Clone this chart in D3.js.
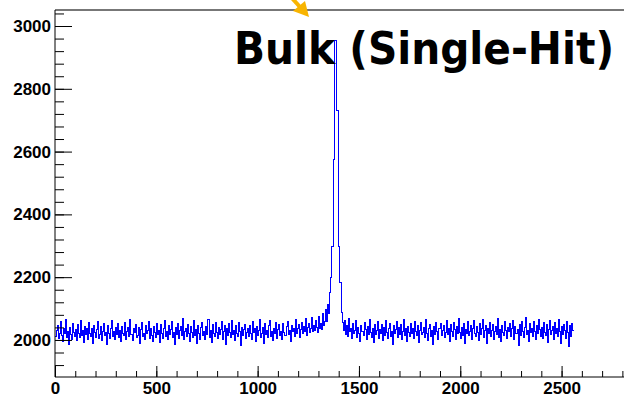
<!DOCTYPE html>
<html>
<head>
<meta charset="utf-8">
<script src="https://cdn.jsdelivr.net/npm/d3@7"></script>
<style>
  body { margin: 0; background: #fff; }
  svg { display: block; }
  .tick text { font-family: 'Liberation Sans', Arial, sans-serif; font-weight: bold; font-size: 17px; fill: #000; }
</style>
</head>
<body>
<div class="main"><svg></svg></div>
<script>
// histogram channel counts, 5 channels per bin, from channel 0 to 2560
const binWidth = 5;
const counts = [
  2010, 2031, 2046, 2005, 2022, 2058, 2013, 1996, 2037, 2019, 2064, 2008, 2027, 1985, 2041, 2016, 2003, 2052, 2024, 2011, 2034, 1999, 2048, 2020, 2007, 2061, 2015, 2029, 1993, 2043, 2018, 2035,
  2002, 2055, 2021, 2012, 2038, 1990, 2047, 2025, 2009, 2033, 2059, 2004, 2017, 2042, 1997, 2028, 2051, 2013, 2023, 1986, 2045, 2019, 2006, 2036, 2062, 2011, 2026, 2000, 2040, 2016, 2053, 2008,
  2030, 1994, 2044, 2021, 2014, 2057, 2003, 2027, 2039, 2010, 2066, 2018, 1998, 2035, 2024, 2049, 2007, 2015, 2041, 1988, 2032, 2056, 2012, 2022, 2001, 2046, 2019, 2029, 2060, 2005, 2037, 2013,
  1996, 2043, 2025, 2009, 2054, 2017, 2031, 1991, 2048, 2020, 2004, 2038, 2063, 2011, 2026, 2000, 2045, 2016, 2034, 2058, 2008, 2023, 1984, 2040, 2018, 2052, 2006, 2029, 2042, 2014, 2067, 2002,
  2027, 2036, 2010, 2050, 2019, 1995, 2044, 2024, 2007, 2061, 2013, 2032, 1989, 2047, 2021, 2003, 2039, 2055, 2015, 2028, 2000, 2043, 2017, 2064, 2009, 2030, 1993, 2049, 2022, 2012, 2057, 2025,
  2006, 2040, 2018, 2033, 2059, 2001, 2026, 2045, 1987, 2036, 2014, 2052, 2023, 2008, 2062, 2016, 2031, 1997, 2046, 2020, 2010, 2055, 2027, 1982, 2041, 2013, 2034, 2050, 2004, 2024, 2038, 2011,
  2047, 2019, 2002, 2058, 2025, 2035, 1994, 2043, 2015, 2029, 2066, 2007, 2021, 2039, 1990, 2053, 2017, 2030, 2009, 2045, 2061, 2012, 2026, 1998, 2037, 2022, 2056, 2005, 2033, 2048, 2014, 2028,
  2003, 2051, 2024, 2013, 2042, 2060, 2018, 2030, 1996, 2047, 2026, 2038, 2011, 2064, 2021, 2035, 2049, 2008, 2032, 2057, 2019, 2043, 2028, 2068, 2015, 2040, 2054, 2023, 2036, 2070, 2027, 2046,
  2030, 2062, 2041, 2024, 2075, 2038, 2052, 2033, 2084, 2046, 2058, 2098, 2060, 2112, 2085, 2150, 2200, 2298, 2298, 2576, 2955, 2955, 2730, 2730, 2298, 2182, 2182, 2086, 2055, 2030, 2062, 2018,
  2045, 2010, 2068, 2026, 2035, 2004, 2052, 2019, 2031, 2061, 2008, 2040, 2022, 1995, 2047, 2027, 2013, 2056, 2033, 2002, 2044, 2018, 2065, 2024, 2009, 2038, 1991, 2050, 2016, 2029, 2059, 2006,
  2034, 2021, 2048, 1999, 2041, 2015, 2063, 2025, 2005, 2036, 2054, 2012, 2028, 1987, 2045, 2020, 2032, 2058, 2009, 2039, 2017, 2050, 2001, 2027, 2066, 2014, 2035, 1996, 2043, 2023, 2011, 2053,
  2019, 2037, 2004, 2060, 2026, 2013, 2046, 1993, 2031, 2055, 2016, 2024, 2040, 2007, 2064, 2021, 1998, 2035, 2049, 2012, 2029, 1985, 2044, 2018, 2057, 2026, 2003, 2038, 2052, 2014, 2030, 2047,
  2008, 2023, 2062, 2017, 2036, 1994, 2048, 2027, 2011, 2055, 2032, 2001, 2042, 2019, 2067, 2025, 2006, 2039, 2013, 2051, 1990, 2034, 2022, 2058, 2015, 2028, 2045, 2003, 2037, 2061, 2020, 2010,
  2043, 2024, 1997, 2053, 2016, 2035, 2064, 2009, 2029, 2047, 1988, 2038, 2021, 2056, 2012, 2031, 2050, 2002, 2026, 2042, 2018, 2069, 2007, 2033, 1995, 2046, 2023, 2014, 2059, 2030, 2005, 2040,
  2027, 2054, 2011, 2036, 2063, 2000, 2044, 2020, 2032, 1983, 2049, 2015, 2058, 2026, 2008, 2041, 2071, 2017, 2030, 1996, 2052, 2024, 2037, 2010, 2060, 2028, 2003, 2045, 2019, 2066, 2034, 2012,
  2039, 2006, 2057, 2025, 2014, 2048, 1992, 2033, 2061, 2018, 2029, 2044, 2002, 2055, 2021, 2036, 2010, 2064, 2027, 1988, 2042, 2016, 2050, 2031, 2004, 2058, 2023, 1980, 2046, 2012, 2053, 2030
];

const xMajor = [0, 500, 1000, 1500, 2000, 2500];
const xMinor = d3.range(0, 2900, 100);
const yMajor = [2000, 2200, 2400, 2600, 2800, 3000];
const yMinor = d3.range(1920, 3060, 40);
const title = 'Bulk (Single-Hit)';

const svgWidth = 624, svgHeight = 398;
const plotLeft = 55, plotTop = 10, plotBottom = 377;

const svg = d3.select('.main')
  .select('svg')
  .attr('width', svgWidth)
  .attr('height', svgHeight)
  .style('background-color', '#fff');

const xScale = d3.scaleLinear()
  .domain([0, 2808])
  .range([plotLeft, svgWidth]);

const yScale = d3.scaleLinear()
  .domain([1882, 3051])
  .range([plotBottom, plotTop]);

// frame top
svg.append('line')
  .attr('x1', plotLeft).attr('x2', svgWidth)
  .attr('y1', plotTop).attr('y2', plotTop)
  .style('stroke', '#777')
  .style('stroke-width', 2);

// histogram as a step line
const points = counts.map(function(d, i) {
  return [i * binWidth, d];
});
points.push([counts.length * binWidth, counts[counts.length - 1]]);

const line = d3.line()
  .x(d => xScale(d[0]))
  .y(d => yScale(d[1]))
  .curve(d3.curveStepAfter);

svg.append('path')
  .datum(points)
  .attr('d', line)
  .attr('shape-rendering', 'crispEdges')
  .style('fill', 'none')
  .style('stroke', '#0000ff')
  .style('stroke-width', 1);

// y axis
svg.append('g')
  .attr('transform', `translate(${plotLeft},0)`)
  .call(d3.axisLeft(yScale).tickValues(yMinor).tickSize(-9).tickSizeOuter(0).tickFormat(''))
  .call(g => g.select('.domain').remove());

svg.append('g')
  .attr('transform', `translate(${plotLeft},0)`)
  .call(d3.axisLeft(yScale).tickValues(yMajor).tickSize(-17).tickSizeOuter(0).tickPadding(4).tickFormat(d3.format('d')))
  .call(g => g.select('.domain').remove());

// x axis
svg.append('g')
  .attr('transform', `translate(0,${plotBottom})`)
  .call(d3.axisBottom(xScale).tickValues(xMinor).tickSize(-6).tickSizeOuter(0).tickFormat(''))
  .call(g => g.select('.domain').remove());

svg.append('g')
  .attr('transform', `translate(0,${plotBottom})`)
  .call(d3.axisBottom(xScale).tickValues(xMajor).tickSize(-11).tickSizeOuter(0).tickPadding(5).tickFormat(d3.format('d')))
  .call(g => g.select('.domain').remove());

svg.selectAll('.tick line').style('stroke', '#000');

// axis lines
svg.append('line')
  .attr('x1', plotLeft).attr('x2', plotLeft)
  .attr('y1', plotTop).attr('y2', plotBottom)
  .style('stroke', '#000');
svg.append('line')
  .attr('x1', plotLeft).attr('x2', svgWidth)
  .attr('y1', plotBottom).attr('y2', plotBottom)
  .style('stroke', '#000');

// label
svg.append('text')
  .text(title)
  .attr('transform', 'translate(234,64) scale(1,1.12)')
  .attr('textLength', 380)
  .attr('lengthAdjust', 'spacingAndGlyphs')
  .style('font-family', "'DejaVu Sans', sans-serif")
  .style('font-weight', 'bold')
  .style('font-size', '40px')
  .style('fill', '#000');

// arrow pointing at the peak
svg.append('line')
  .attr('x1', 291).attr('y1', -3)
  .attr('x2', 300).attr('y2', 7)
  .style('stroke', '#f8b400')
  .style('stroke-width', 4);
svg.append('polygon')
  .attr('points', '293,11 305,1 309,17')
  .style('fill', '#f8b400');
</script>
</body>
</html>
